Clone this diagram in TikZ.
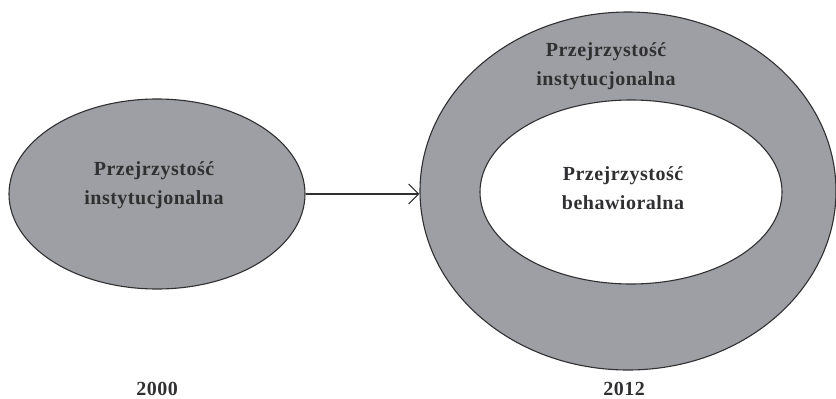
\documentclass[tikz,border=0pt]{standalone}
\usepackage{fontspec}
\newfontfamily\diagfont{Liberation Serif}[LetterSpace=2.5]
\usetikzlibrary{arrows.meta,positioning,shapes.geometric}
\definecolor{ringgray}{RGB}{158,159,164}
\definecolor{inkgray}{RGB}{48,48,50}

\begin{document}
\begin{tikzpicture}[x=1pt,y=-1pt,
  blob/.style={draw=inkgray, line width=1.1pt, ellipse, inner sep=0pt, fill=ringgray},
  lbl/.style={align=center, text=inkgray, font=\diagfont\bfseries\fontsize{20}{29.5}\selectfont}]
\useasboundingbox (0,0) rectangle (836,399);
% 2000
\node[blob, minimum width=296pt, minimum height=190pt] (old) at (157,194) {};
\node[lbl] (oldtxt) at (154,185) {Przejrzystość\\instytucjonalna};
% 2012
\node[blob, minimum width=416pt, minimum height=358pt] (outer) at (628,191) {};
\node[blob, fill=white, minimum width=302pt, minimum height=184pt] (inner) at (631,192) {};
\node[lbl] (outertxt) at (606,66) {Przejrzystość\\instytucjonalna};
\node[lbl] (innertxt) at (623,188) {Przejrzystość\\behawioralna};
\draw[-{Straight Barb[length=10pt,width=20pt]}, line width=1.1pt, inkgray]
  (old.east) -- (old.east -| outer.west);
\node[lbl, anchor=base, inner sep=1pt] (y2000) at (157,395) {2000};
\node[lbl, anchor=base, inner sep=1pt] (y2012) at (624,395) {2012};
\end{tikzpicture}
\end{document}
